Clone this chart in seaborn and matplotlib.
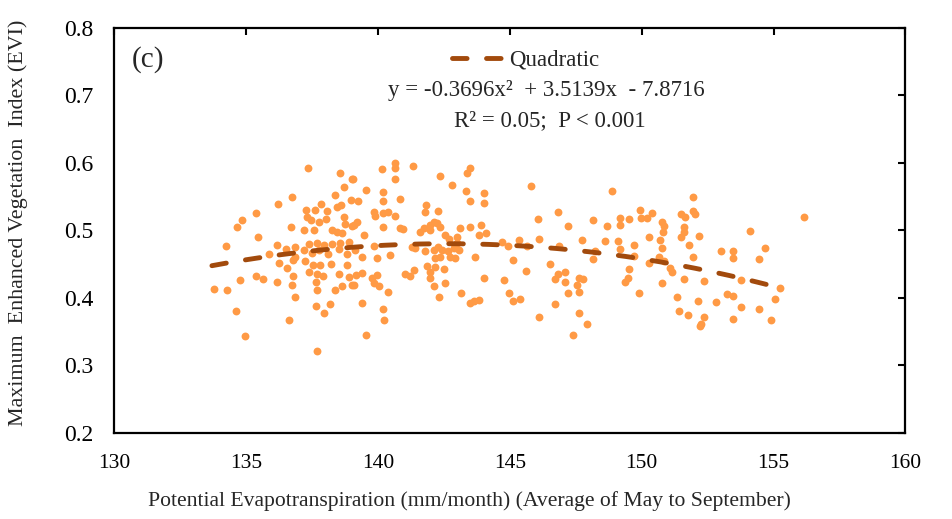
import numpy as np
import pandas as pd
import matplotlib
matplotlib.use("Agg")
import matplotlib.pyplot as plt
import seaborn as sns

# PET (mm/month, May-Sep average) vs max EVI
pet = [137.33, 138.54, 139.01, 138.70, 138.38, 136.72, 136.20, 135.38, 134.84, 134.66,
       136.69, 135.45, 134.23, 136.17, 135.88, 137.28, 137.62, 137.85, 138.06, 138.44,
       138.61, 138.99, 137.31, 137.47, 137.75, 138.04, 138.70, 138.76, 139.01, 137.56,
       137.20, 138.25, 138.44, 138.63, 137.37, 137.68, 137.94, 138.25, 138.57, 138.89,
       136.86, 136.51, 137.18, 137.49, 137.77, 138.10, 138.51, 138.82, 136.86, 136.76,
       137.24, 137.52, 137.81, 138.23, 138.82, 136.23, 136.55, 137.39, 137.68, 137.91,
       138.53, 138.89, 136.77, 136.74, 137.65, 137.70, 138.38, 138.63, 139.01, 136.84,
       137.65, 138.16, 137.95, 134.78, 135.38, 135.64, 136.18, 133.79, 134.27, 134.63,
       134.97, 136.61, 137.68,
       139.05, 139.54, 139.23, 140.15, 140.66, 140.66, 141.33, 140.66, 140.18, 140.18,
       140.82, 139.86, 139.90, 140.19, 140.38, 140.63, 140.19, 140.85, 140.95, 139.20,
       139.08, 139.46, 139.86, 139.14, 139.39, 139.96, 140.44, 141.29, 141.42, 139.18,
       139.39, 139.77, 139.96, 139.83, 140.02, 139.08, 140.37, 139.39, 140.19, 140.21,
       139.54, 141.04, 141.20, 141.35, 142.34, 142.81, 143.37, 143.48, 143.35, 143.50,
       144.01, 144.03, 141.83, 141.79, 142.26, 141.76, 141.98, 142.11, 142.24, 142.36,
       141.58, 141.98, 142.55, 142.68, 143.00, 143.12, 143.50, 143.91, 144.11, 143.82,
       141.79, 142.11, 142.26, 142.43, 142.64, 142.87, 143.00, 143.06, 142.74, 142.17,
       142.36, 142.93, 143.67, 141.86, 141.98, 142.17, 142.52, 141.98, 142.55, 142.11,
       142.30, 143.15, 144.03, 144.79, 144.95, 143.48, 143.63, 143.82, 144.70,
       145.82, 148.88, 149.95, 150.39, 149.99, 150.20, 150.77, 150.80, 149.19, 149.19,
       149.51, 148.16, 148.69, 147.21, 146.81, 146.06, 146.09, 145.34, 145.65, 144.93,
       146.85, 147.74, 148.62, 149.10, 149.19, 149.70, 149.70, 150.27, 150.71, 150.77,
       150.67, 150.83, 150.27, 148.24, 148.14, 145.11, 146.54, 145.61, 146.83, 147.11,
       146.73, 147.11, 147.61, 147.76, 147.55, 147.64, 147.21, 149.51, 149.48, 149.38,
       149.91, 150.77, 145.11, 145.40, 146.70, 147.61, 146.09, 147.93, 147.40,
       151.94, 151.95, 152.04, 151.49, 151.63, 150.86, 151.62, 151.62, 151.49, 152.19,
       151.78, 151.94, 151.09, 151.15, 151.62, 152.38, 154.09, 154.69, 152.99, 153.45,
       153.45, 154.44, 156.15, 153.77, 155.24, 151.34, 152.14, 152.82, 153.24, 153.45,
       155.07, 151.43, 151.75, 152.38, 152.25, 152.23, 153.77, 154.44, 153.45, 154.92]

evi = [0.592, 0.585, 0.576, 0.565, 0.553, 0.549, 0.539, 0.526, 0.516, 0.505,
       0.505, 0.490, 0.477, 0.479, 0.465, 0.530, 0.530, 0.539, 0.529, 0.534,
       0.538, 0.545, 0.520, 0.516, 0.512, 0.517, 0.520, 0.510, 0.506, 0.501,
       0.500, 0.501, 0.497, 0.496, 0.480, 0.481, 0.479, 0.480, 0.481, 0.483,
       0.476, 0.472, 0.471, 0.466, 0.471, 0.465, 0.472, 0.465, 0.461, 0.456,
       0.454, 0.449, 0.449, 0.450, 0.449, 0.451, 0.444, 0.438, 0.436, 0.433,
       0.436, 0.431, 0.433, 0.419, 0.423, 0.412, 0.412, 0.417, 0.419, 0.401,
       0.388, 0.391, 0.378, 0.427, 0.432, 0.428, 0.424, 0.413, 0.411, 0.381,
       0.344, 0.367, 0.321,
       0.576, 0.560, 0.543, 0.591, 0.600, 0.592, 0.595, 0.576, 0.557, 0.544,
       0.546, 0.528, 0.521, 0.526, 0.528, 0.521, 0.505, 0.503, 0.502, 0.513,
       0.508, 0.493, 0.477, 0.471, 0.461, 0.459, 0.464, 0.476, 0.474, 0.434,
       0.437, 0.429, 0.434, 0.422, 0.417, 0.419, 0.409, 0.393, 0.383, 0.367,
       0.345, 0.435, 0.433, 0.442, 0.581, 0.567, 0.585, 0.592, 0.558, 0.543,
       0.555, 0.540, 0.538, 0.528, 0.529, 0.503, 0.508, 0.513, 0.511, 0.505,
       0.497, 0.501, 0.493, 0.488, 0.490, 0.503, 0.505, 0.508, 0.496, 0.493,
       0.469, 0.471, 0.476, 0.471, 0.469, 0.474, 0.481, 0.471, 0.461, 0.459,
       0.461, 0.459, 0.460, 0.447, 0.439, 0.446, 0.443, 0.429, 0.422, 0.417,
       0.402, 0.408, 0.429, 0.427, 0.407, 0.393, 0.395, 0.397, 0.483,
       0.566, 0.558, 0.531, 0.526, 0.518, 0.519, 0.513, 0.498, 0.518, 0.508,
       0.517, 0.516, 0.506, 0.507, 0.528, 0.517, 0.488, 0.486, 0.477, 0.477,
       0.477, 0.486, 0.485, 0.485, 0.472, 0.478, 0.462, 0.490, 0.486, 0.474,
       0.461, 0.454, 0.451, 0.469, 0.457, 0.456, 0.450, 0.440, 0.436, 0.438,
       0.428, 0.423, 0.429, 0.428, 0.419, 0.409, 0.408, 0.443, 0.429, 0.424,
       0.408, 0.422, 0.396, 0.399, 0.391, 0.378, 0.372, 0.362, 0.345,
       0.549, 0.529, 0.525, 0.525, 0.520, 0.506, 0.505, 0.498, 0.490, 0.492,
       0.479, 0.460, 0.444, 0.438, 0.428, 0.425, 0.499, 0.474, 0.469, 0.470,
       0.459, 0.457, 0.520, 0.427, 0.415, 0.402, 0.396, 0.394, 0.406, 0.403,
       0.398, 0.380, 0.375, 0.372, 0.362, 0.358, 0.386, 0.383, 0.369, 0.367]

# quadratic trend as printed on the chart (x in units of PET/30)
coef = [-0.3696, 3.5139, -7.8716]
x_range = [133.7, 155.4]

df = pd.DataFrame({"pet": pet, "evi": evi})
xf = np.linspace(x_range[0], x_range[1], 200)
fit = pd.DataFrame({"pet": xf, "evi": np.polyval(coef, xf / 30)})

sns.set_style("white")
plt.rcParams["font.family"] = ["Liberation Serif", "DejaVu Serif"]

fig, ax = plt.subplots(figsize=(9.53, 5.19), dpi=100)
fig.subplots_adjust(left=0.12, right=0.95, top=0.946, bottom=0.166)

sns.scatterplot(data=df, x="pet", y="evi", ax=ax, color="#FF9A45",
                s=32, linewidth=0, alpha=1, legend=False, zorder=2)
sns.lineplot(data=fit, x="pet", y="evi", ax=ax, color="#A24A0C",
             linewidth=3.5, label="Quadratic", zorder=3)
l = ax.lines[0]
l.set_dashes((3.0, 4.0))
l.set_dash_capstyle("round")

ax.set_xlim(130, 160)
ax.set_ylim(0.2, 0.8)
ax.set_xticks(range(130, 161, 5))
ax.set_yticks(np.arange(0.2, 0.81, 0.1))
ax.set_yticklabels(["0.2", "0.3", "0.4", "0.5", "0.6", "0.7", "0.8"])
ax.tick_params(direction="in", length=5, width=1.5, top=True, right=True,
               colors="black")
ax.tick_params(axis="x", pad=15, labelsize=15.5)
ax.tick_params(axis="y", pad=15, labelsize=17)
for sp in ax.spines.values():
    sp.set_linewidth(1.6)
    sp.set_color("black")
ax.set_xlabel("")
ax.set_ylabel("")

fig.text(0.493, 0.035, "Potential Evapotranspiration (mm/month) (Average of May to September)",
         ha="center", va="center", fontsize=15.6)
fig.text(0.019, 0.57, "Maximum  Enhanced Vegetation  Index (EVI)",
         ha="center", va="center", rotation=90, fontsize=15.8)

ax.text(0.022, 0.921, "(c)", transform=ax.transAxes, fontsize=21, va="center")

ax.legend(loc="center", bbox_to_anchor=(0.52, 0.92), frameon=False,
          fontsize=16.5, handlelength=2.4, handletextpad=0.1)
ax.text(0.546, 0.845, "y = -0.3696x\u00b2  + 3.5139x  - 7.8716", transform=ax.transAxes,
        ha="center", va="center", fontsize=16.5)
ax.text(0.55, 0.772, "R\u00b2 = 0.05;  P < 0.001", transform=ax.transAxes,
        ha="center", va="center", fontsize=16.5)

fig.savefig("out.png", dpi=100)
